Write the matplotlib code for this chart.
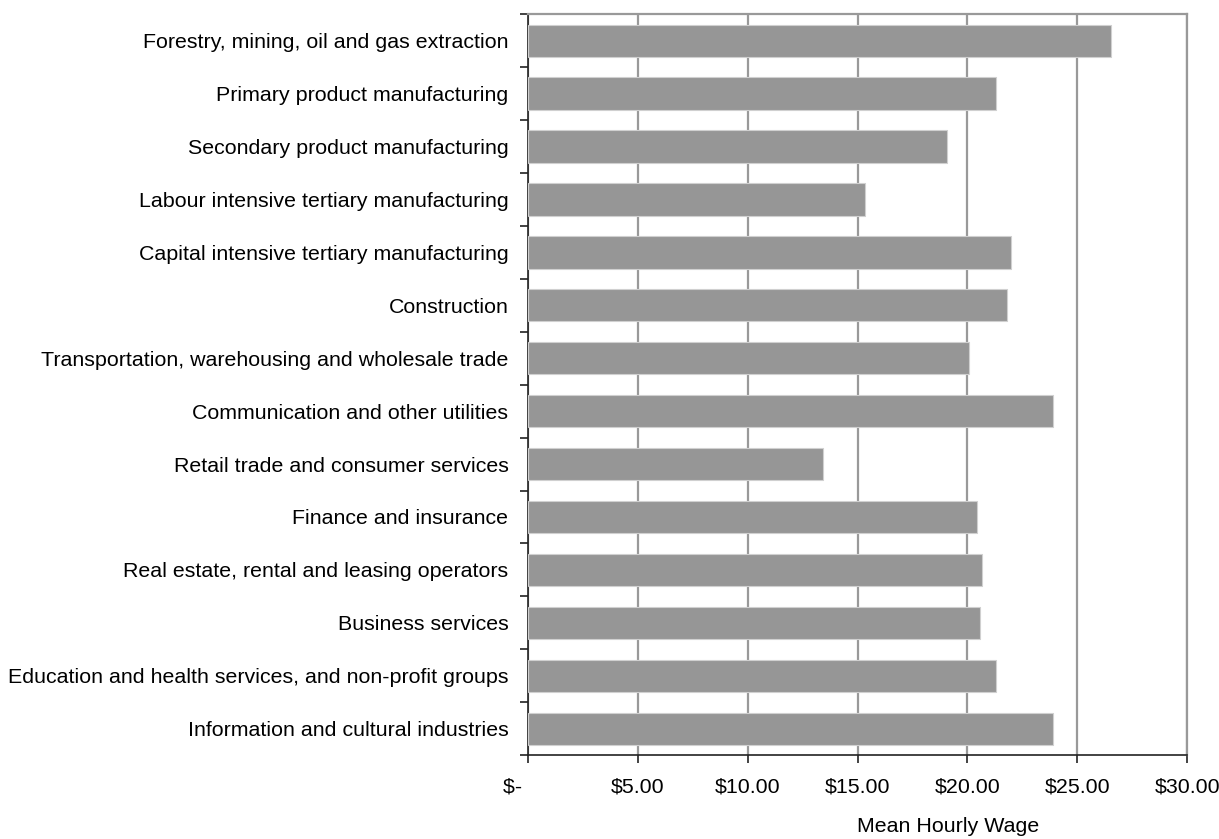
import numpy as np
import matplotlib.pyplot as plt

# mean hourly wage by industry group
industries = [
    "Forestry, mining, oil and gas extraction",
    "Primary product manufacturing",
    "Secondary product manufacturing",
    "Labour intensive tertiary manufacturing",
    "Capital intensive tertiary manufacturing",
    "Construction",
    "Transportation, warehousing and wholesale trade",
    "Communication and other utilities",
    "Retail trade and consumer services",
    "Finance and insurance",
    "Real estate, rental and leasing operators",
    "Business services",
    "Education and health services, and non-profit groups",
    "Information and cultural industries",
]
wages = [26.52, 21.29, 19.09, 15.36, 21.96, 21.79, 20.07,
         23.88, 13.45, 20.45, 20.64, 20.55, 21.29, 23.88]

xticks = [0, 5, 10, 15, 20, 25, 30]
# accounting style: zero shown as "$-" with trailing padding
xlabels = ["$-     ", "$5.00", "$10.00", "$15.00", "$20.00", "$25.00", "$30.00"]

plt.rcParams['font.family'] = ['Liberation Sans', 'DejaVu Sans']
fs = 15.4

fig = plt.figure(figsize=(12.19, 8.39), dpi=100)
ax = fig.add_axes([0.433, 0.100, 0.541, 0.883])

n = len(industries)
y = np.arange(n)
ax.barh(y, wages, height=0.61, color='#969696', edgecolor='#d0d0d0',
        linewidth=0.8, zorder=3)

ax.set_xlim(0, 30)
ax.set_ylim(n - 0.5, -0.5)

# vertical gridlines
ax.set_xticks(xticks)
ax.set_xticklabels(xlabels, fontsize=fs)
ax.grid(axis='x', color='#999999', linewidth=1.6, zorder=0)

# category names as minor labels, tick marks on the boundaries
ax.set_yticks(np.arange(n + 1) - 0.5)
ax.set_yticklabels([])
ax.set_yticks(y, minor=True)
ax.set_yticklabels(industries, minor=True, fontsize=fs)
ax.tick_params(axis='y', which='minor', length=0, pad=14)
ax.tick_params(axis='y', which='major', length=6, width=1.2, color='#222222')
ax.tick_params(axis='x', length=6, width=1.2, color='#222222', pad=10)

for s in ['top', 'right']:
    ax.spines[s].set_color('#999999')
    ax.spines[s].set_linewidth(1.6)
for s in ['left', 'bottom']:
    ax.spines[s].set_color('#222222')
    ax.spines[s].set_linewidth(1.2)

ax.set_xlabel("Mean Hourly Wage", fontsize=fs)
ax.xaxis.set_label_coords(0.637, -0.084)

fig.savefig("out.png", dpi=100)
